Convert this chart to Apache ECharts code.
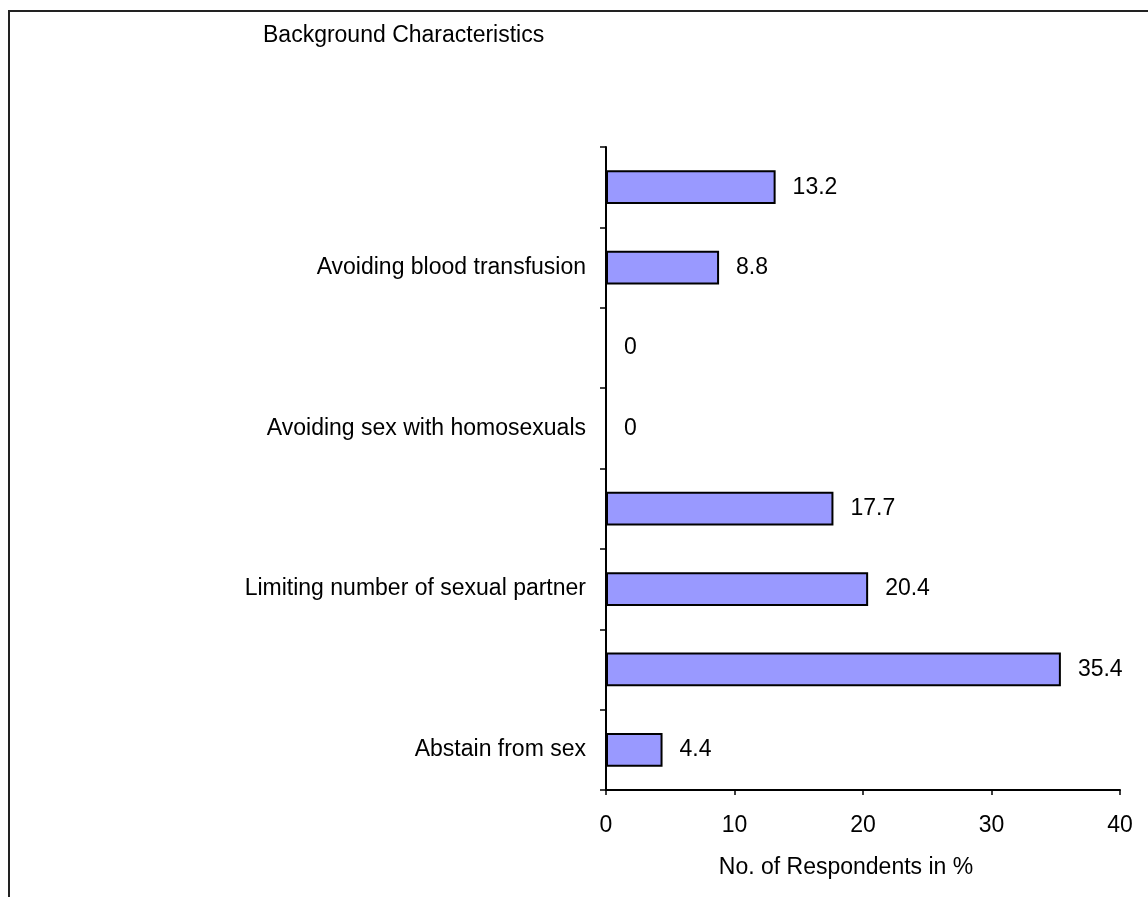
<!DOCTYPE html>
<html>
<head>
<meta charset="utf-8">
<script src="https://cdn.jsdelivr.net/npm/echarts@6/dist/echarts.min.js"></script>
<style>
  html, body { margin: 0; padding: 0; background: #fff; }
  #chart { width: 1148px; height: 897px; }
</style>
</head>
<body>
<div id="chart"></div>
<script>
// Categories listed bottom to top; only every other band carries a label
const categories = [
  'Abstain from sex',
  '',
  'Limiting number of sexual partner',
  '',
  'Avoiding sex with homosexuals',
  '',
  'Avoiding blood transfusion',
  ''
];
const percentValues = [4.4, 35.4, 20.4, 17.7, 0, 0, 8.8, 13.2];
const xTicks = [0, 10, 20, 30, 40];
const chartTitle = 'Background Characteristics';
const xAxisName = 'No. of Respondents in %';

const FONT = '"Liberation Sans", Arial, sans-serif';
const FS = 23;
const chart = echarts.init(document.getElementById('chart'), null, { renderer: 'canvas' });

chart.setOption({
  animation: false,
  backgroundColor: '#ffffff',
  textStyle: { fontFamily: FONT, color: '#000' },
  title: {
    text: chartTitle,
    left: 258,
    top: 19,
    textStyle: { fontFamily: FONT, fontSize: FS, fontWeight: 'normal', color: '#000' }
  },
  graphic: [
    { type: 'line', shape: { x1: 8, y1: 11, x2: 1148, y2: 11 }, style: { stroke: '#222', lineWidth: 2 } },
    { type: 'line', shape: { x1: 9, y1: 10, x2: 9, y2: 897 }, style: { stroke: '#222', lineWidth: 2 } }
  ],
  grid: { left: 606, right: 28, top: 147, bottom: 107, containLabel: false },
  xAxis: {
    type: 'value',
    min: xTicks[0],
    max: xTicks[xTicks.length - 1],
    interval: xTicks[1] - xTicks[0],
    name: xAxisName,
    nameLocation: 'middle',
    nameGap: 66,
    nameTextStyle: { fontFamily: FONT, fontSize: FS, color: '#000', padding: [0, 34, 0, 0] },
    axisLine: { show: true, lineStyle: { color: '#000', width: 2 } },
    axisTick: { show: true, length: 5, lineStyle: { color: '#000', width: 1.5 } },
    axisLabel: { fontFamily: FONT, fontSize: FS, color: '#000', margin: 24 },
    splitLine: { show: false }
  },
  yAxis: {
    type: 'category',
    data: categories,
    axisLine: { show: true, lineStyle: { color: '#000', width: 2 } },
    axisTick: { show: true, length: 6, alignWithLabel: false, interval: 0, lineStyle: { color: '#000', width: 1.5 } },
    axisLabel: { interval: 0, fontFamily: FONT, fontSize: FS, color: '#000', margin: 20 },
    splitLine: { show: false }
  },
  series: [{
    type: 'bar',
    data: percentValues,
    barCategoryGap: '58%',
    itemStyle: { color: '#9999FF', borderColor: '#000', borderWidth: 2 },
    label: {
      show: true,
      position: 'right',
      distance: 17,
      fontFamily: FONT,
      fontSize: FS,
      color: '#000',
      formatter: p => String(p.value)
    }
  }]
});
</script>
</body>
</html>
